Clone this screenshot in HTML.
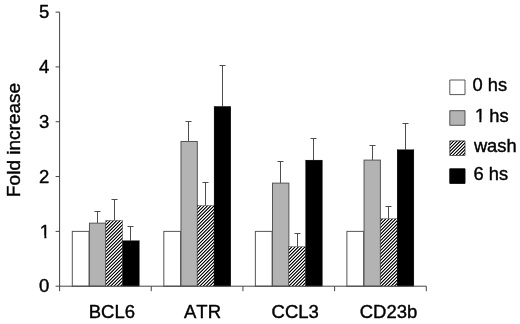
<!DOCTYPE html><html><head><meta charset="utf-8"><title>Fold increase</title><style>html,body{margin:0;padding:0;background:#fff}body{width:520px;height:324px;overflow:hidden}</style></head><body><svg width="520" height="324" viewBox="0 0 520 324" style="display:block">
<defs><linearGradient id="h" gradientUnits="userSpaceOnUse" x1="0" y1="0.792" x2="1.6500" y2="2.4420" spreadMethod="repeat"><stop offset="0.0000" stop-color="rgb(0,0,0)"/><stop offset="0.0417" stop-color="rgb(0,0,0)"/><stop offset="0.0833" stop-color="rgb(8,8,8)"/><stop offset="0.1250" stop-color="rgb(32,32,32)"/><stop offset="0.1667" stop-color="rgb(64,64,64)"/><stop offset="0.2083" stop-color="rgb(101,101,101)"/><stop offset="0.2500" stop-color="rgb(140,140,140)"/><stop offset="0.2917" stop-color="rgb(180,180,180)"/><stop offset="0.3333" stop-color="rgb(217,217,217)"/><stop offset="0.3750" stop-color="rgb(248,248,248)"/><stop offset="0.4167" stop-color="rgb(255,255,255)"/><stop offset="0.4583" stop-color="rgb(255,255,255)"/><stop offset="0.5000" stop-color="rgb(255,255,255)"/><stop offset="0.5417" stop-color="rgb(255,255,255)"/><stop offset="0.5833" stop-color="rgb(255,255,255)"/><stop offset="0.6250" stop-color="rgb(248,248,248)"/><stop offset="0.6667" stop-color="rgb(217,217,217)"/><stop offset="0.7083" stop-color="rgb(180,180,180)"/><stop offset="0.7500" stop-color="rgb(140,140,140)"/><stop offset="0.7917" stop-color="rgb(101,101,101)"/><stop offset="0.8333" stop-color="rgb(64,64,64)"/><stop offset="0.8750" stop-color="rgb(32,32,32)"/><stop offset="0.9167" stop-color="rgb(8,8,8)"/><stop offset="0.9583" stop-color="rgb(0,0,0)"/><stop offset="1.0000" stop-color="rgb(0,0,0)"/></linearGradient></defs>
<rect width="520" height="324" fill="#fff"/>
<rect x="72.30" y="231.38" width="16.75" height="54.82" fill="#fff" stroke="#555" stroke-width="1"/>
<path d="M97.50 223.16V211.50M94.50 211.50H100.50" stroke="#444" stroke-width="0.95" fill="none"/>
<rect x="89.45" y="223.16" width="16.35" height="63.04" fill="#b3b3b3" stroke="#555" stroke-width="1"/>
<path d="M114.50 220.42V199.50M111.50 199.50H117.50" stroke="#444" stroke-width="0.95" fill="none"/>
<rect x="105.80" y="220.42" width="16.75" height="65.78" fill="url(#h)"/>
<rect x="105.80" y="220.42" width="16.75" height="65.78" fill="none" stroke="#333" stroke-width="0.4"/>
<path d="M130.50 240.70V226.50M127.50 226.50H133.50" stroke="#444" stroke-width="0.95" fill="none"/>
<rect x="122.55" y="240.70" width="16.75" height="45.50" fill="#000" stroke="#000" stroke-width="0.3"/>
<rect x="163.83" y="231.38" width="16.75" height="54.82" fill="#fff" stroke="#555" stroke-width="1"/>
<path d="M188.50 141.48V121.50M185.50 121.50H191.50" stroke="#444" stroke-width="0.95" fill="none"/>
<rect x="180.98" y="141.48" width="16.35" height="144.72" fill="#b3b3b3" stroke="#555" stroke-width="1"/>
<path d="M205.50 205.61V182.50M202.50 182.50H208.50" stroke="#444" stroke-width="0.95" fill="none"/>
<rect x="197.33" y="205.61" width="16.75" height="80.59" fill="url(#h)"/>
<rect x="197.33" y="205.61" width="16.75" height="80.59" fill="none" stroke="#333" stroke-width="0.4"/>
<path d="M222.50 106.39V65.50M219.50 65.50H225.50" stroke="#444" stroke-width="0.95" fill="none"/>
<rect x="214.08" y="106.39" width="16.75" height="179.81" fill="#000" stroke="#000" stroke-width="0.3"/>
<rect x="255.36" y="231.38" width="16.75" height="54.82" fill="#fff" stroke="#555" stroke-width="1"/>
<path d="M280.50 183.14V161.50M277.50 161.50H283.50" stroke="#444" stroke-width="0.95" fill="none"/>
<rect x="272.51" y="183.14" width="16.35" height="103.06" fill="#b3b3b3" stroke="#555" stroke-width="1"/>
<path d="M297.50 246.73V233.50M294.50 233.50H300.50" stroke="#444" stroke-width="0.95" fill="none"/>
<rect x="288.86" y="246.73" width="16.75" height="39.47" fill="url(#h)"/>
<rect x="288.86" y="246.73" width="16.75" height="39.47" fill="none" stroke="#333" stroke-width="0.4"/>
<path d="M313.50 160.11V138.50M310.50 138.50H316.50" stroke="#444" stroke-width="0.95" fill="none"/>
<rect x="305.61" y="160.11" width="16.75" height="126.09" fill="#000" stroke="#000" stroke-width="0.3"/>
<rect x="346.89" y="231.38" width="16.75" height="54.82" fill="#fff" stroke="#555" stroke-width="1"/>
<path d="M372.50 160.11V145.50M369.50 145.50H375.50" stroke="#444" stroke-width="0.95" fill="none"/>
<rect x="364.04" y="160.11" width="16.35" height="126.09" fill="#b3b3b3" stroke="#555" stroke-width="1"/>
<path d="M388.50 218.77V206.50M385.50 206.50H391.50" stroke="#444" stroke-width="0.95" fill="none"/>
<rect x="380.39" y="218.77" width="16.75" height="67.43" fill="url(#h)"/>
<rect x="380.39" y="218.77" width="16.75" height="67.43" fill="none" stroke="#333" stroke-width="0.4"/>
<path d="M405.50 149.70V123.50M402.50 123.50H408.50" stroke="#444" stroke-width="0.95" fill="none"/>
<rect x="397.14" y="149.70" width="16.75" height="136.50" fill="#000" stroke="#000" stroke-width="0.3"/>
<path d="M59.6 12.1V291.2M55.6 286.2H426.30" stroke="#444" stroke-width="1" fill="none"/>
<path d="M55.6 231.38H59.6" stroke="#444" stroke-width="1"/>
<path d="M55.6 176.56H59.6" stroke="#444" stroke-width="1"/>
<path d="M55.6 121.74H59.6" stroke="#444" stroke-width="1"/>
<path d="M55.6 66.92H59.6" stroke="#444" stroke-width="1"/>
<path d="M55.6 12.10H59.6" stroke="#444" stroke-width="1"/>
<path d="M151.28 286.2V291.2" stroke="#444" stroke-width="1"/>
<path d="M242.95 286.2V291.2" stroke="#444" stroke-width="1"/>
<path d="M334.62 286.2V291.2" stroke="#444" stroke-width="1"/>
<path d="M426.30 286.2V291.2" stroke="#444" stroke-width="1"/>
<g font-family="'Liberation Sans', Arial, sans-serif" font-size="18.5" fill="#000" stroke="#000" stroke-width="0.4" stroke-linejoin="round" style="font-kerning:none">
<text x="49.3" y="292.35" text-anchor="end">0</text>
<text x="50.1" y="237.53" text-anchor="end">1</text>
<path d="M39.5 235.6H44.38V239.5H39.5zM46.4 235.6H51V239.5H46.4z" fill="#fff" stroke="none"/>
<text x="49.3" y="182.71" text-anchor="end">2</text>
<text x="49.3" y="127.89" text-anchor="end">3</text>
<text x="49.3" y="73.07" text-anchor="end">4</text>
<text x="49.3" y="18.25" text-anchor="end">5</text>
<text x="111.85" y="317.8" text-anchor="middle">BCL6</text>
<text x="202.5" y="317.8" text-anchor="middle">ATR</text>
<text x="295.2" y="317.8" text-anchor="middle">CCL3</text>
<text x="388.5" y="317.8" text-anchor="middle">CD23b</text>
<text transform="translate(20.3 195.6) rotate(-90)" x="-1.4" y="0" font-size="19">Fold increase</text>
<rect x="449.8" y="80.00" width="15.2" height="14.6" fill="#fff" stroke="#444" stroke-width="0.9"/>
<text x="472.5" y="91.2" font-size="18.3">0 hs</text>
<rect x="449.8" y="110.70" width="15.2" height="14.6" fill="#b3b3b3" stroke="#444" stroke-width="0.9"/>
<text x="474.90 484.28" y="122.0" font-size="18.3">1 hs</text>
<path d="M474.5 119.6H479.4V123.5H474.5zM481.4 119.6H486V123.5H481.4z" fill="#fff" stroke="none"/>
<rect x="449.80" y="140.90" width="15.20" height="14.60" fill="url(#h)"/>
<rect x="449.8" y="140.90" width="15.2" height="14.6" fill="none" stroke="#333" stroke-width="0.4"/>
<text x="473.9" y="152.4" font-size="18.3">wash</text>
<rect x="449.8" y="168.80" width="15.2" height="14.6" fill="#000" stroke="#000" stroke-width="0.9"/>
<text x="473.6" y="180.2" font-size="18.3">6 hs</text>
</g></svg></body></html>
